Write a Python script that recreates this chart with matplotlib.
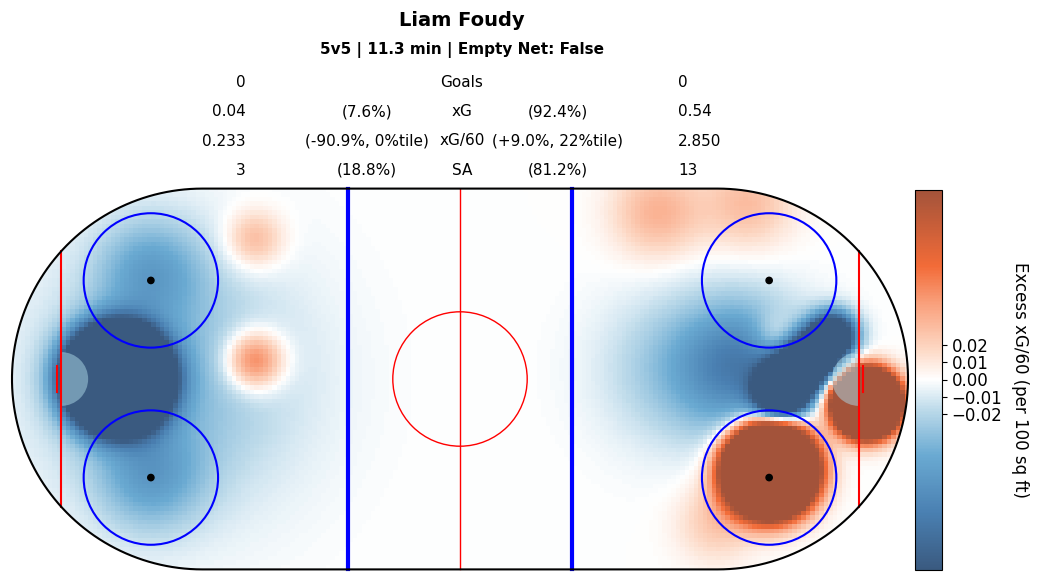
import numpy as np
import matplotlib
matplotlib.use('agg')
import matplotlib.pyplot as plt  # noqa
from matplotlib.colors import LinearSegmentedColormap, Normalize  # noqa
from matplotlib.path import Path  # noqa
from matplotlib.patches import PathPatch, Circle, Wedge  # noqa

# header text
player = 'Liam Foudy'
subtitle = '5v5 | 11.3 min | Empty Net: False'
stat_labels = ['Goals', 'xG', 'xG/60', 'SA']
left_vals = ['0', '0.04', '0.233', '3']
left_pcts = ['', '(7.6%)', '(-90.9%, 0%tile)', '(18.8%)']
right_pcts = ['', '(92.4%)', '(+9.0%, 22%tile)', '(81.2%)']
right_vals = ['0', '0.54', '2.850', '13']

# smoothed excess xG blobs (rink feet, value, spread)
blob_x = [-76.5, -65, -69, -69, -46, -46,
          69, 90.5, 83, 78.5, 73.5, 71, 63, 70, 48, 44, 64, 57]
blob_y = [0, 0, 24, -22, 31, 4,
          -20.5, -5.5, 9.5, 4.5, -0.5, -3.5, 3, 10, 2, 37, 39, -32]
blob_amp = [-1.0, -0.035, -0.04, -0.04, 0.035, 0.07,
            1.1, 0.9, -0.2, -0.25, -0.25, -0.2, -0.07, 0.025, -0.025,
            0.035, 0.03, 0.025]
blob_sigma = [6, 20, 8, 8, 4.5, 4.5,
              5.3, 4.0, 3.5, 3.5, 3.5, 3.5, 10, 3.5, 12, 7, 7, 6]

cbar_ticks = [-0.02, -0.01, 0.0, 0.01, 0.02]
vlim = 0.11

cmap = LinearSegmentedColormap.from_list('xg', [
    (0.0, '#3a5a80'), (0.15, '#4a80b2'), (0.3, '#6aaad2'),
    (0.42, '#bcdaea'), (0.5, '#ffffff'), (0.58, '#fdd8c4'),
    (0.7, '#f9a07c'), (0.8, '#f26b38'), (1.0, '#a3533a')])

# grid of 1 sq ft cells
xc = np.arange(-99.5, 100, 1.0)
yc = np.arange(-42, 42.5, 1.0)
XX, YY = np.meshgrid(xc, yc)
Z = np.zeros_like(XX)
for bx, by, ba, bs in zip(blob_x, blob_y, blob_amp, blob_sigma):
    Z += ba * np.exp(-((XX - bx) ** 2 + (YY - by) ** 2) / (2 * bs ** 2))

fig = plt.figure(figsize=(10.41, 5.82), dpi=100)
W, H = 1041, 582
ax = fig.add_axes([7.5 / W, 8.1 / H, 905 / W, 389.8 / H])
ax.set_xlim(-101, 101)
ax.set_ylim(-43.5, 43.5)
ax.axis('off')

# rink outline: straight sides with half-circle ends
r = 42.5
t1 = np.linspace(np.pi / 2, -np.pi / 2, 100)
t2 = np.linspace(-np.pi / 2, -3 * np.pi / 2, 100)
verts = ([(-57.5, 42.5), (57.5, 42.5)]
         + list(zip(57.5 + r * np.cos(t1), r * np.sin(t1)))
         + [(-57.5, -42.5)]
         + list(zip(-57.5 + r * np.cos(t2), r * np.sin(t2))))
rink = Path(verts + [verts[0]], closed=True)

im = ax.imshow(Z, extent=[-100, 100, -42.5, 42.5], origin='lower',
               cmap=cmap, norm=Normalize(-vlim, vlim),
               interpolation='nearest', zorder=1)
clip = PathPatch(rink, transform=ax.transData, facecolor='none',
                 edgecolor='none')
ax.add_patch(clip)
im.set_clip_path(clip)

gy = np.sqrt(r ** 2 - (89 - 57.5) ** 2)
for s in (-1, 1):
    ax.plot([89 * s, 89 * s], [-gy, gy], color='red', lw=1.5, zorder=3)
    ax.plot([25 * s, 25 * s], [-42.5, 42.5], color='blue', lw=3, zorder=3)
    th1, th2 = (90, 270) if s > 0 else (-90, 90)
    ax.add_patch(Wedge((89 * s, 0), 6, th1, th2, facecolor='lightblue',
                       alpha=0.5, edgecolor='none', zorder=2))
    ax.plot([90 * s, 90 * s], [-3, 3], color='red', lw=1.5, zorder=3)
    for fy in (-22, 22):
        ax.add_patch(Circle((69 * s, fy), 15, fill=False, edgecolor='blue',
                            lw=1.5, zorder=3))
        ax.add_patch(Circle((69 * s, fy), 0.7, color='black', zorder=3))

ax.plot([0, 0], [-42.5, 42.5], color='red', lw=1, zorder=3)
ax.add_patch(Circle((0, 0), 15, fill=False, edgecolor='red', lw=1, zorder=3))
ax.add_patch(PathPatch(rink, facecolor='none', edgecolor='black', lw=1.5,
                       zorder=4))

# colorbar
cax = fig.add_axes([915 / W, 12.5 / H, 27 / W, 380 / H])
cb = fig.colorbar(im, cax=cax, ticks=cbar_ticks)
cb.ax.tick_params(labelsize=12)
cb.set_label('Excess xG/60 (per 100 sq ft)', rotation=270, fontsize=12,
             labelpad=19)

# titles and stat table
fig.text(462 / W, 1 - 20 / H, player, ha='center', va='center',
         fontsize=14, fontweight='bold')
fig.text(462 / W, 1 - 50 / H, subtitle, ha='center', va='center',
         fontsize=11, fontweight='bold')
for i, lab in enumerate(stat_labels):
    yy = 1 - (83 + 29 * i) / H
    fig.text(246 / W, yy, left_vals[i], ha='right', va='center', fontsize=11)
    fig.text(367 / W, yy, left_pcts[i], ha='center', va='center', fontsize=11)
    fig.text(462 / W, yy, lab, ha='center', va='center', fontsize=11)
    fig.text(558 / W, yy, right_pcts[i], ha='center', va='center', fontsize=11)
    fig.text(678 / W, yy, right_vals[i], ha='left', va='center', fontsize=11)

fig.savefig('out.png', dpi=100)
